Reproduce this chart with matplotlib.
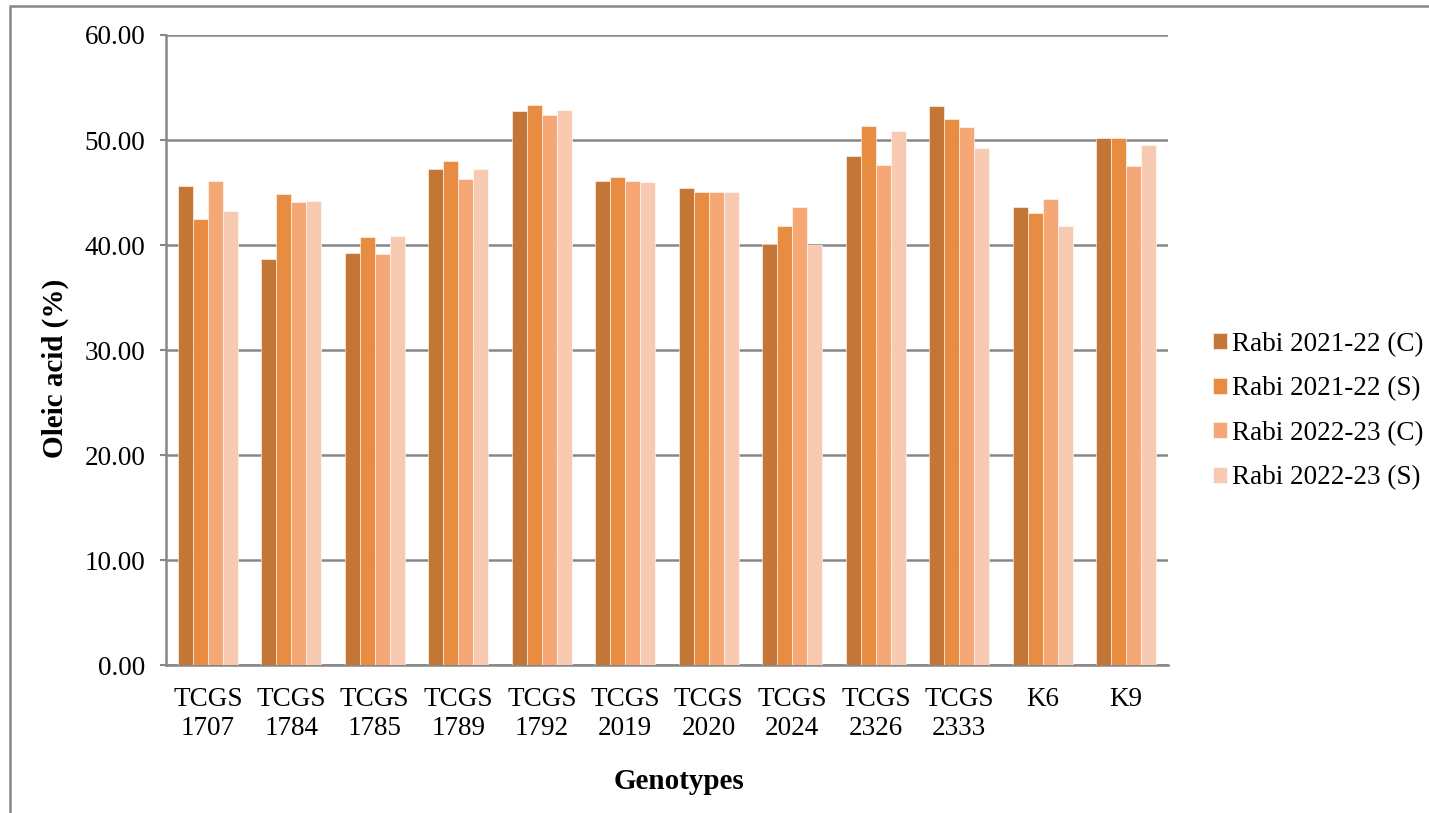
import matplotlib
matplotlib.use("Agg")
import matplotlib.pyplot as plt
import numpy as np
from matplotlib.patches import Rectangle

plt.rcParams['font.family'] = ['Liberation Serif', 'DejaVu Serif']

genotypes = ["TCGS\n1707", "TCGS\n1784", "TCGS\n1785", "TCGS\n1789", "TCGS\n1792",
             "TCGS\n2019", "TCGS\n2020", "TCGS\n2024", "TCGS\n2326", "TCGS\n2333",
             "K6", "K9"]

rabi_2122_c = [45.65, 38.67, 39.24, 47.24, 52.76, 46.06, 45.40, 40.10, 48.44, 53.24, 43.65, 50.16]
rabi_2122_s = [42.50, 44.90, 40.80, 48.00, 53.30, 46.50, 45.00, 41.84, 51.30, 52.00, 43.05, 50.19]
rabi_2223_c = [46.10, 44.10, 39.14, 46.29, 52.38, 46.10, 45.00, 43.60, 47.65, 51.24, 44.38, 47.52]
rabi_2223_s = [43.20, 44.20, 40.86, 47.20, 52.90, 46.00, 45.05, 40.00, 50.86, 49.24, 41.84, 49.55]

series_labels = ["Rabi 2021-22 (C)", "Rabi 2021-22 (S)", "Rabi 2022-23 (C)", "Rabi 2022-23 (S)"]
series_colors = ["#C47636", "#E88C42", "#F5A876", "#F8CAB2"]
series = [rabi_2122_c, rabi_2122_s, rabi_2223_c, rabi_2223_s]

W, H = 1429, 813
fig = plt.figure(figsize=(W / 100, H / 100), dpi=100)
ax = fig.add_axes([166 / W, 1 - 665 / H, (1168 - 166) / W, (665 - 35) / H])

x = np.arange(len(genotypes))
width = 0.18
for i, (vals, lab, col) in enumerate(zip(series, series_labels, series_colors)):
    ax.bar(x + (i - 1.5) * width, vals, width, color=col, label=lab,
           edgecolor="white", linewidth=0.4, zorder=3)

ax.set_xlim(-0.5, len(genotypes) - 0.5)
ax.set_ylim(0, 60)
yt = np.arange(0, 61, 10)
ax.set_yticks(yt)
ax.set_yticklabels([f"{v:.2f}" for v in yt], fontsize=19.5)
ax.set_xticks(x)
ax.set_xticklabels(genotypes, fontsize=19.5, linespacing=1.2)
ax.tick_params(axis='x', length=0, pad=16)
ax.tick_params(axis='y', length=4.5, width=1.5, color="#878787", pad=10.5)

ax.yaxis.grid(True, color="#878787", linewidth=1.8, zorder=0)
ax.set_axisbelow(True)
for s in ["top", "right"]:
    ax.spines[s].set_visible(False)
for s in ["left", "bottom"]:
    ax.spines[s].set_color("#878787")
    ax.spines[s].set_linewidth(1.8)

# axis titles
fig.text(55 / W, 1 - 368 / H, "Oleic acid (%)", rotation=90, fontsize=21,
         fontweight="bold", ha="center", va="center")
fig.text(679 / W, 1 - 781 / H, "Genotypes", fontsize=21,
         fontweight="bold", ha="center", va="center")

fig.legend(loc="center left", bbox_to_anchor=(1213 / W, 1 - 411 / H),
           frameon=False, fontsize=19.5, handlelength=0.52, handleheight=0.52,
           handletextpad=0.2, labelspacing=0.72, borderpad=0, borderaxespad=0)

# outer chart-area border
fig.add_artist(Rectangle((10 / W, -0.1), 1.2, 1 - 6 / H + 0.1,
                         transform=fig.transFigure, fill=False,
                         edgecolor="#878787", linewidth=1.8))

fig.savefig("out.png", dpi=100)
